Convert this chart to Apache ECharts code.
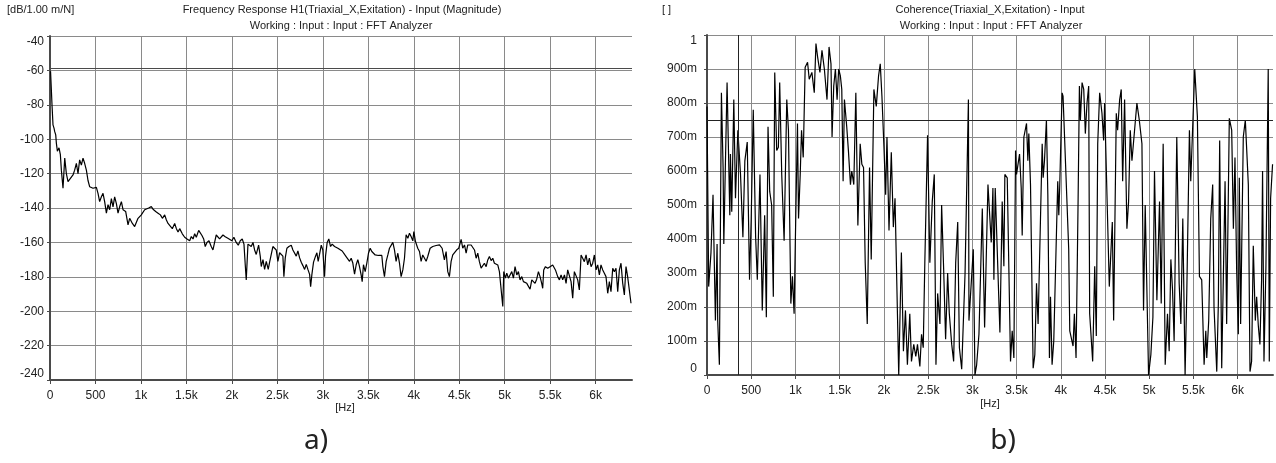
<!DOCTYPE html>
<html>
<head>
<meta charset="utf-8">
<script src="https://cdn.jsdelivr.net/npm/echarts@6/dist/echarts.min.js"></script>
<style>
  html, body { margin: 0; padding: 0; background: #fff; }
  #chart { width: 1276px; height: 463px; }
</style>
</head>
<body>
<div id="chart"></div>
<script>
// a) frequency response magnitude
const hzA = [6, 22, 33, 44, 52, 63, 70, 81, 88, 99, 114, 125, 137, 143, 162, 180, 198, 216, 253, 271,
  290, 308, 326, 345, 363, 381, 400, 418, 436, 473, 510, 528, 546, 565, 583, 601, 620, 638, 656, 675,
  693, 711, 730, 748, 766, 785, 803, 832, 858, 876, 906, 931, 949, 968, 986, 1004, 1023, 1041, 1060, 1085,
  1114, 1133, 1162, 1188, 1214, 1236, 1261, 1280, 1298, 1316, 1345, 1371, 1390, 1408, 1426, 1455, 1481, 1507, 1536, 1554,
  1573, 1591, 1609, 1635, 1653, 1671, 1690, 1707, 1726, 1748, 1773, 1792, 1810, 1828, 1847, 1865, 1883, 1902, 1927, 1956,
  1975, 2000, 2022, 2048, 2070, 2092, 2114, 2133, 2147, 2158, 2177, 2195, 2213, 2232, 2250, 2268, 2294, 2312, 2323, 2342,
  2360, 2378, 2400, 2415, 2433, 2451, 2469, 2488, 2506, 2525, 2543, 2561, 2572, 2587, 2605, 2627, 2653, 2671, 2690, 2708,
  2726, 2745, 2763, 2781, 2800, 2818, 2836, 2855, 2866, 2880, 2898, 2920, 2935, 2949, 2964, 2983, 3000, 3019, 3030, 3048,
  3066, 3085, 3103, 3129, 3166, 3184, 3213, 3239, 3264, 3294, 3312, 3330, 3349, 3367, 3385, 3403, 3422, 3433, 3447, 3466,
  3484, 3502, 3521, 3539, 3557, 3576, 3594, 3612, 3631, 3649, 3660, 3678, 3697, 3715, 3733, 3751, 3770, 3788, 3806, 3825,
  3843, 3861, 3880, 3898, 3916, 3935, 3953, 3971, 3990, 4001, 4019, 4044, 4063, 4081, 4099, 4118, 4136, 4154, 4180, 4209,
  4246, 4283, 4312, 4337, 4356, 4374, 4392, 4411, 4429, 4447, 4473, 4495, 4521, 4539, 4558, 4576, 4594, 4613, 4631, 4649,
  4668, 4686, 4704, 4722, 4741, 4759, 4777, 4796, 4814, 4832, 4851, 4869, 4887, 4906, 4924, 4942, 4961, 4979, 4990, 5008,
  5023, 5041, 5059, 5078, 5096, 5114, 5133, 5151, 5169, 5188, 5206, 5224, 5243, 5261, 5279, 5298, 5316, 5334, 5352, 5371,
  5389, 5407, 5418, 5429, 5448, 5473, 5499, 5528, 5558, 5583, 5602, 5620, 5638, 5657, 5675, 5693, 5711, 5730, 5748, 5766,
  5785, 5803, 5821, 5840, 5858, 5876, 5895, 5913, 5931, 5950, 5968, 5986, 6005, 6023, 6041, 6059, 6078, 6096, 6114, 6133,
  6151, 6169, 6188, 6206, 6224, 6243, 6261, 6279, 6298, 6316, 6334, 6352, 6371, 6389];
const dbA = [-60.5, -80, -91.7, -93.6, -95.6, -97.5, -102.3, -107, -106, -105, -109, -118, -118, -128.5, -111, -120, -124.6, -123.5, -120.8, -118,
  -114, -120, -112, -115, -111, -114, -118, -124, -127.6, -128.5, -128, -131.5, -136.3, -133.5, -131.5, -136.3, -143, -138, -141, -134.5,
  -139.3, -133.5, -137.4, -143, -139.3, -136.3, -141, -142, -149.8, -146, -149, -150.8, -149.8, -146, -147, -144, -145, -141, -142, -140,
  -139.2, -140.7, -142, -143, -144, -146, -144, -147, -149, -148, -152, -149, -152, -154, -152, -155, -157, -158, -159, -156.6,
  -158, -155, -157, -153, -152, -156, -158, -162.4, -160, -159, -162.4, -164.4, -160, -155.7, -156, -158, -157, -155.7, -156.7, -157.6,
  -156.6, -159, -157, -160, -161.6, -159, -158, -161, -173, -181.8, -161, -160, -162.4, -160, -164.4, -167, -161.6, -168, -174, -170,
  -175.7, -171, -175.7, -171.5, -167, -162.4, -161.6, -164.4, -171, -166, -165, -168, -180, -169, -163.4, -162.4, -161.6, -164.4, -165, -168,
  -165, -169, -171.5, -173.5, -175.7, -172.8, -175.7, -178.6, -185.8, -178.6, -171.5, -168, -166, -171, -167, -161.6, -164.4, -180, -168, -160,
  -158, -162.4, -161, -162.4, -163.4, -164.3, -165, -167, -168.8, -171, -169.2, -172, -178.5, -173, -170, -174, -179, -182.8, -173, -177,
  -172, -166.3, -163.4, -165.3, -164.3, -167.3, -166.3, -167.6, -167, -167.6, -174, -179.9, -171, -167.3, -163.4, -162.4, -160, -164.3, -171, -166.3,
  -172, -179.9, -176, -169.2, -155.6, -157.6, -154.7, -156.6, -159.1, -153.7, -159.5, -163.4, -165.3, -171, -167.3, -168.2, -171, -168.2, -163.4, -162.4,
  -161.8, -161.4, -163.4, -170.2, -165.3, -177, -179.9, -171, -167.3, -166.3, -164.3, -163.4, -158.2, -163.4, -161.5, -166.3, -161.5, -160.5, -161.5, -162.4,
  -164.4, -169.2, -166.3, -171.2, -175, -176, -172.1, -174.1, -170.2, -168.2, -170.6, -169.2, -172.1, -171.2, -173.1, -177, -177.9, -197.3, -177, -180.8,
  -177.9, -180.8, -178.9, -177, -180.8, -174.1, -178.9, -177, -181.8, -179.9, -182.8, -181.8, -183.8, -182.8, -187.2, -181.8, -180.8, -183.8, -181.4, -177,
  -179.9, -183.8, -186.7, -176, -174.1, -175, -174.1, -173.1, -176, -179.9, -181.8, -178.9, -181.8, -178.9, -183.8, -176, -175, -182.8, -192.5, -177,
  -176, -181.8, -187.6, -167.3, -169.2, -171.2, -167.3, -173.1, -169.2, -174.1, -172.1, -167.3, -176, -173.1, -178.9, -173.1, -176, -177.9, -179.9, -189.6,
  -182.8, -188.6, -175, -177, -175, -188.6, -176, -172.1, -183.8, -190.5, -174.1, -179.9, -179.9, -195.4];

// b) coherence
const hzB = [0, 19, 45, 68, 95, 114, 121, 140, 163, 182, 190, 208, 227, 258, 265, 280, 303, 322, 349, 379,
  406, 428, 455, 481, 500, 523, 550, 569, 599, 625, 652, 671, 690, 709, 731, 750, 766, 788, 807, 822,
  845, 872, 902, 921, 948, 966, 985, 1004, 1023, 1035, 1054, 1069, 1088, 1110, 1137, 1156, 1186, 1213, 1232, 1251,
  1277, 1300, 1327, 1357, 1380, 1402, 1414, 1433, 1452, 1471, 1489, 1508, 1524, 1539, 1554, 1580, 1599, 1622, 1637, 1660,
  1683, 1706, 1732, 1751, 1770, 1789, 1812, 1838, 1857, 1887, 1914, 1940, 1959, 1978, 2001, 2020, 2035, 2058, 2084, 2107,
  2126, 2168, 2198, 2221, 2244, 2266, 2293, 2312, 2338, 2361, 2380, 2407, 2426, 2445, 2463, 2494, 2520, 2547, 2570, 2589,
  2608, 2634, 2653, 2676, 2698, 2721, 2740, 2767, 2789, 2812, 2835, 2854, 2880, 2918, 2956, 2962, 2974, 3011, 3030, 3049,
  3075, 3113, 3139, 3177, 3214, 3233, 3244, 3259, 3312, 3338, 3357, 3368, 3395, 3432, 3451, 3470, 3489, 3500, 3534, 3553,
  3564, 3583, 3613, 3628, 3639, 3658, 3688, 3707, 3726, 3744, 3790, 3801, 3816, 3838, 3854, 3872, 3884, 3902, 3921, 3966,
  3978, 3989, 4015, 4026, 4090, 4102, 4139, 4154, 4173, 4196, 4211, 4222, 4241, 4260, 4278, 4297, 4316, 4327, 4361, 4384,
  4402, 4418, 4440, 4466, 4485, 4496, 4549, 4583, 4598, 4628, 4643, 4666, 4684, 4700, 4722, 4748, 4767, 4786, 4805, 4861,
  4888, 4918, 4936, 4955, 4993, 5019, 5042, 5060, 5087, 5117, 5136, 5158, 5181, 5207, 5226, 5245, 5264, 5282, 5312, 5339,
  5358, 5380, 5406, 5425, 5455, 5470, 5515, 5545, 5568, 5594, 5621, 5640, 5651, 5673, 5696, 5718, 5733, 5764, 5782, 5797,
  5820, 5858, 5876, 5906, 5933, 5952, 5970, 5989, 6008, 6019, 6034, 6064, 6087, 6121, 6140, 6158, 6177, 6200, 6215, 6234,
  6252, 6271, 6282, 6298, 6320, 6346, 6358, 6373, 6395];
const cohB = [0.79, 0.26, 0.36, 0.53, 0.16, 0.385, 0.16, 0.03, 0.83, 0.61, 0.385, 0.62, 0.86, 0.47, 0.65, 0.48, 0.81, 0.52, 0.72, 0.59,
  0.405, 0.63, 0.685, 0.28, 0.46, 0.78, 0.405, 0.28, 0.59, 0.19, 0.47, 0.17, 0.73, 0.54, 0.50, 0.23, 0.89, 0.66, 0.67, 0.86,
  0.59, 0.395, 0.81, 0.72, 0.21, 0.29, 0.18, 0.47, 0.74, 0.46, 0.59, 0.72, 0.64, 0.905, 0.92, 0.87, 0.89, 0.83, 0.975, 0.935,
  0.89, 0.955, 0.90, 0.81, 0.965, 0.915, 0.70, 0.85, 0.90, 0.81, 0.90, 0.88, 0.84, 0.57, 0.81, 0.73, 0.66, 0.56, 0.60, 0.56,
  0.83, 0.44, 0.68, 0.62, 0.61, 0.33, 0.15, 0.61, 0.34, 0.84, 0.79, 0.88, 0.915, 0.82, 0.67, 0.53, 0.70, 0.425, 0.655, 0.435,
  0.52, 0.0, 0.36, 0.07, 0.19, 0.03, 0.18, 0.04, 0.09, 0.055, 0.09, 0.025, 0.12, 0.08, 0.33, 0.705, 0.33, 0.51, 0.59, 0.03,
  0.24, 0.15, 0.50, 0.31, 0.105, 0.30, 0.18, 0.09, 0.04, 0.33, 0.45, 0.08, 0.017, 0.30, 0.81, 0.16, 0.21, 0.37, 0.0, 0.03,
  0.12, 0.49, 0.14, 0.56, 0.39, 0.55, 0.28, 0.55, 0.125, 0.51, 0.32, 0.59, 0.58, 0.04, 0.13, 0.05, 0.66, 0.59, 0.65, 0.55,
  0.41, 0.70, 0.74, 0.63, 0.71, 0.56, 0.02, 0.06, 0.27, 0.15, 0.68, 0.58, 0.63, 0.75, 0.53, 0.05, 0.23, 0.03, 0.10, 0.57,
  0.47, 0.56, 0.83, 0.82, 0.37, 0.13, 0.085, 0.18, 0.05, 0.51, 0.85, 0.75, 0.86, 0.84, 0.71, 0.80, 0.85, 0.18, 0.04, 0.32,
  0.115, 0.68, 0.83, 0.77, 0.69, 0.80, 0.26, 0.45, 0.16, 0.77, 0.72, 0.81, 0.84, 0.57, 0.81, 0.43, 0.51, 0.72, 0.63, 0.80,
  0.75, 0.68, 0.19, 0.50, 0.0, 0.06, 0.17, 0.60, 0.22, 0.51, 0.21, 0.68, 0.03, 0.18, 0.07, 0.34, 0.25, 0.10, 0.70, 0.27,
  0.15, 0.46, 0.0, 0.24, 0.72, 0.57, 0.90, 0.76, 0.29, 0.28, 0.03, 0.13, 0.05, 0.16, 0.46, 0.56, 0.20, 0.01, 0.21, 0.69,
  0.02, 0.57, 0.15, 0.755, 0.72, 0.43, 0.64, 0.31, 0.12, 0.58, 0.15, 0.70, 0.75, 0.56, 0.01, 0.04, 0.38, 0.16, 0.23, 0.145,
  0.09, 0.28, 0.60, 0.04, 0.32, 0.90, 0.04, 0.52, 0.62];

// cursor / limit lines seen on the plots
const limitA = -59;
const limitB = 0.75;
const cursorB = 356;

const FONT = "'Liberation Sans', Arial, sans-serif";

function hzLabel(v) {
  return v >= 1000 ? (v / 1000) + 'k' : String(v);
}
function milliLabel(v) {
  if (v === 0) return '0';
  if (Math.abs(v - 1) < 1e-9) return '1';
  return Math.round(v * 1000) + 'm';
}

function xAxisOf(gridIndex) {
  return {
    type: 'value',
    gridIndex: gridIndex,
    min: 0,
    max: 6400,
    interval: 500,
    axisLine: { show: true, onZero: false, lineStyle: { color: '#4a4a4a', width: 2 } },
    axisTick: { show: true, length: 4, lineStyle: { color: '#4a4a4a' } },
    axisLabel: {
      formatter: hzLabel, color: '#222', fontFamily: FONT, fontSize: 12,
      margin: 10, showMaxLabel: false
    },
    splitLine: { show: true, showMaxLine: false, lineStyle: { color: '#8a8a8a', width: 1 } }
  };
}

const chart = echarts.init(document.getElementById('chart'), null, { renderer: 'canvas' });

chart.setOption({
  animation: false,
  backgroundColor: '#fff',
  grid: [
    { left: 50, top: 36, width: 582, height: 344 },
    { left: 707, top: 35, width: 566, height: 340 }
  ],
  xAxis: [xAxisOf(0), xAxisOf(1)],
  yAxis: [
    {
      type: 'value', gridIndex: 0, min: -240, max: -40, interval: 20,
      axisLine: { show: true, onZero: false, lineStyle: { color: '#4a4a4a', width: 2 } },
      axisTick: { show: true, length: 3, lineStyle: { color: '#4a4a4a' } },
      axisLabel: {
        color: '#222', fontFamily: FONT, fontSize: 12, margin: 6,
        verticalAlignMaxLabel: 'top', verticalAlignMinLabel: 'bottom'
      },
      splitLine: { show: true, lineStyle: { color: '#8a8a8a', width: 1 } }
    },
    {
      type: 'value', gridIndex: 1, min: 0, max: 1, interval: 0.1,
      axisLine: { show: true, onZero: false, lineStyle: { color: '#4a4a4a', width: 2 } },
      axisTick: { show: true, length: 3, lineStyle: { color: '#4a4a4a' } },
      axisLabel: {
        formatter: milliLabel, color: '#222', fontFamily: FONT, fontSize: 12, margin: 10,
        verticalAlignMaxLabel: 'top', verticalAlignMinLabel: 'bottom'
      },
      splitLine: { show: true, lineStyle: { color: '#8a8a8a', width: 1 } }
    }
  ],
  series: [
    {
      type: 'line', xAxisIndex: 0, yAxisIndex: 0,
      data: hzA.map((h, i) => [h, dbA[i]]),
      showSymbol: false, smooth: false,
      lineStyle: { color: '#000', width: 1.2 },
      markLine: {
        silent: true, symbol: 'none', label: { show: false },
        lineStyle: { color: '#4a4a4a', type: 'solid', width: 1 },
        data: [{ yAxis: limitA }]
      }
    },
    {
      type: 'line', xAxisIndex: 1, yAxisIndex: 1,
      data: hzB.map((h, i) => [h, cohB[i]]),
      showSymbol: false, smooth: false,
      lineStyle: { color: '#000', width: 1.2 },
      markLine: {
        silent: true, symbol: 'none', label: { show: false },
        lineStyle: { color: '#222', type: 'solid', width: 1 },
        data: [{ yAxis: limitB }, { xAxis: cursorB }]
      }
    }
  ],
  graphic: [
    { type: 'text', left: 7, top: 4, style: { text: '[dB/1.00 m/N]', font: '11px ' + FONT, fill: '#222' } },
    { type: 'text', x: 342, y: 10, style: { text: 'Frequency Response H1(Triaxial_X,Exitation) - Input (Magnitude)', font: '11px ' + FONT, fill: '#222', textAlign: 'center', textVerticalAlign: 'middle' } },
    { type: 'text', x: 341, y: 26, style: { text: 'Working : Input : Input : FFT Analyzer', font: '11px ' + FONT, fill: '#222', textAlign: 'center', textVerticalAlign: 'middle' } },
    { type: 'text', x: 345, y: 408, style: { text: '[Hz]', font: '11px ' + FONT, fill: '#222', textAlign: 'center', textVerticalAlign: 'middle' } },
    { type: 'text', x: 316, y: 441, style: { text: 'a)', font: '28px "Noto Sans", sans-serif', fill: '#222', textAlign: 'center', textVerticalAlign: 'middle' } },

    { type: 'text', left: 662, top: 4, style: { text: '[ ]', font: '11px ' + FONT, fill: '#222' } },
    { type: 'text', x: 990, y: 10, style: { text: 'Coherence(Triaxial_X,Exitation) - Input', font: '11px ' + FONT, fill: '#222', textAlign: 'center', textVerticalAlign: 'middle' } },
    { type: 'text', x: 991, y: 26, style: { text: 'Working : Input : Input : FFT Analyzer', font: '11px ' + FONT, fill: '#222', textAlign: 'center', textVerticalAlign: 'middle' } },
    { type: 'text', x: 990, y: 404, style: { text: '[Hz]', font: '11px ' + FONT, fill: '#222', textAlign: 'center', textVerticalAlign: 'middle' } },
    { type: 'text', x: 1003, y: 441, style: { text: 'b)', font: '28px "Noto Sans", sans-serif', fill: '#222', textAlign: 'center', textVerticalAlign: 'middle' } }
  ]
});
</script>
</body>
</html>
